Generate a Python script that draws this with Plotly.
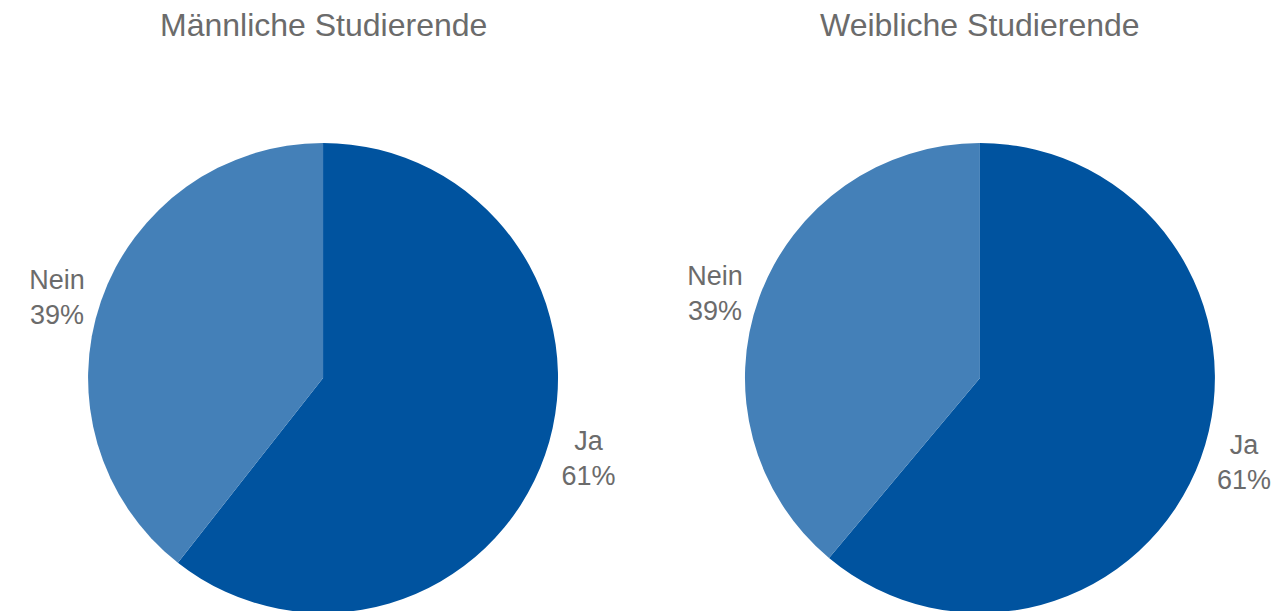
import plotly.graph_objects as go

labels = ["Ja", "Nein"]
maennlich = [60.6, 39.4]
weiblich = [61.1, 38.9]
titel = ["Männliche Studierende", "Weibliche Studierende"]
farben = ["#00539F", "#4480B8"]

W, H = 1285, 650
grau = "#6B6B6B"
schrift = "Liberation Sans, Arial"

# Mittelpunkte der beiden Kreise (Anteil der Breite)
mitte_x = [0.2514, 0.7626]

fig = go.Figure()
for werte, mx in zip([maennlich, weiblich], mitte_x):
    fig.add_trace(go.Pie(
        labels=labels, values=werte,
        sort=False, direction="clockwise", rotation=0,
        marker=dict(colors=farben, line=dict(width=0)),
        texttemplate="%{label}<br>%{percent:.0%}",
        textposition="outside",
        textfont=dict(family=schrift, size=27, color=grau),
        showlegend=False,
        domain=dict(x=[mx - 0.19, mx + 0.19], y=[0.057, 0.780]),
    ))

for t, mx in zip(titel, mitte_x):
    fig.add_annotation(
        text=t, x=mx, y=1, xref="paper", yref="paper",
        xanchor="center", yanchor="top", yshift=-5, showarrow=False,
        font=dict(family=schrift, size=32, color=grau),
    )

fig.update_layout(
    width=W, height=H,
    margin=dict(l=0, r=0, t=0, b=0, autoexpand=False),
    paper_bgcolor="white", plot_bgcolor="white",
)

fig.write_html("out.html", config={"displayModeBar": False},
               post_script="document.body.style.margin='0';")
